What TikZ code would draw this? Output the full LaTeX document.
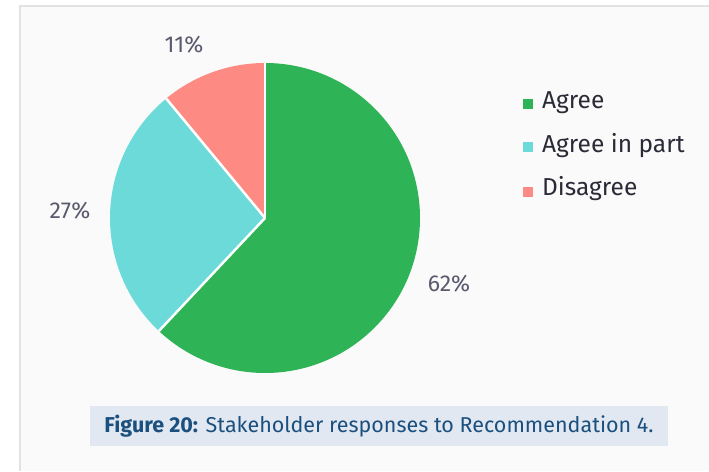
\documentclass[tikz,border=0pt]{standalone}
\usepackage{fontspec}
\setmainfont{Fira Sans}

\definecolor{agree}{HTML}{2EB457}
\definecolor{agreepart}{HTML}{6CDAD9}
\definecolor{disagree}{HTML}{FD8A83}
\definecolor{pcttext}{HTML}{5A5A6E}
\definecolor{legtext}{HTML}{2B2B38}
\definecolor{capbg}{HTML}{E1E8F1}
\definecolor{captext}{HTML}{1B4F7E}
\definecolor{panel}{HTML}{FAFAFA}
\definecolor{frame}{HTML}{E2E2E2}

\begin{document}
\begin{tikzpicture}[x=1pt, y=1pt]
\tikzset{ pct/.style={text=pcttext, font=\fontsize{23}{27}\selectfont, inner sep=0pt},
          legkey/.style={minimum size=10pt, inner sep=0pt},
          legtxt/.style={text=legtext, font=\fontsize{24.5}{29}\selectfont, anchor=base west, inner sep=0pt},
          capbox/.style={fill=capbg, text=captext, minimum width=578pt, minimum height=40pt,
                         inner sep=0pt, font=\fontsize{21.5}{25}\selectfont},
          sep/.style={white, line width=2.5pt},
}

\useasboundingbox (0,0) rectangle (709,471);
\fill [white] (0,0) rectangle (709,471);
\fill [panel] (20,0) rectangle (709,465);
\draw [frame, line width=1.5pt] (20,0) -- (20,465) -- (709,465);

% pie, centre c, radius 155
\coordinate (c) at (265,253);

\fill [agree]     (c) -- ++(90:155)    arc [start angle=90,    end angle=-133.2, radius=155] -- cycle;
\fill [agreepart] (c) -- ++(226.8:155) arc [start angle=226.8, end angle=129.6,  radius=155] -- cycle;
\fill [disagree]  (c) -- ++(129.6:155) arc [start angle=129.6, end angle=90,     radius=155] -- cycle;

\draw [sep] (c) -- ++(90:155);
\draw [sep] (c) -- ++(226.8:155);
\draw [sep] (c) -- ++(129.6:155);

\node [pct] (p11) at (184,426) {11\%};
\node [pct] (p27) at (70,260)  {27\%};
\node [pct] (p62) at (449,187) {62\%};

% legend
\node [legkey, fill=agree]     (kagree)    at (528,367) {};
\node [legkey, fill=agreepart] (kpart)     at (528,324) {};
\node [legkey, fill=disagree]  (kdisagree) at (528,279) {};

\node [legtxt] (tagree)    at (542,362) {Agree};
\node [legtxt] (tpart)     at (542,318) {Agree in part};
\node [legtxt] (tdisagree) at (542,275) {Disagree};

\node [capbox] (cap) at (379,45) {\textbf{Figure 20:} Stakeholder responses to Recommendation 4.};

\end{tikzpicture}
\end{document}
